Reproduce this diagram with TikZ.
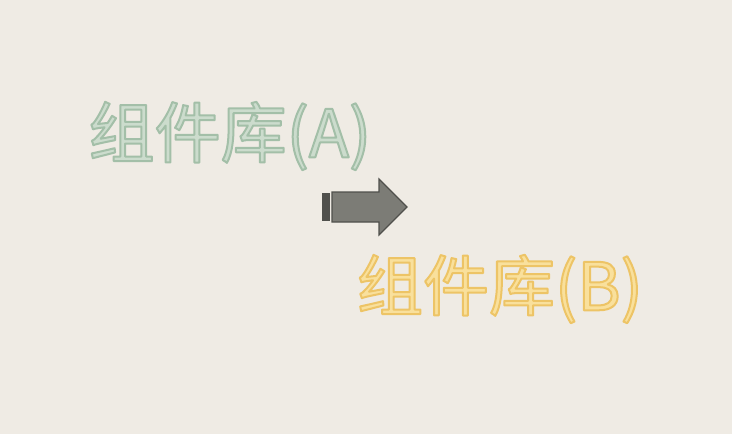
\documentclass[tikz,border=0pt]{standalone}
\usepackage{fontspec}
\setmainfont{Noto Sans CJK SC}
\definecolor{bg}{RGB}{239,235,228}
\definecolor{gA}{RGB}{204,220,205}
\definecolor{yB}{RGB}{249,224,156}
\definecolor{ar}{RGB}{124,124,118}
\definecolor{arline}{RGB}{80,80,76}
% outlined text: fill in the current colour, stroke in the given one
\newcommand{\outlined}[2]{\special{pdf:code #1 RG 2 w 1 j 2 Tr}#2\special{pdf:code 0 Tr}}

\tikzset{lib/.style={font=\fontsize{66}{66}\selectfont, inner sep=0pt}}

\begin{document}
\begin{tikzpicture}[x=1pt,y=-1pt]
        \fill[bg] (0,0) rectangle (732,434);
        \node[lib] (libA) at (230,136) {\color{gA}\outlined{0.64 0.75 0.66}{组件库(A)}};
        \node[lib] (libB) at (500,289) {\color{yB}\outlined{0.93 0.77 0.40}{组件库(B)}};
        % arrow
        \draw[arline, fill=ar, line width=1.2pt, line join=miter] (332,192) -- (379,192) -- (379,179) -- (407,207) -- (379,235) -- (379,222) -- (332,222) -- cycle;
        % tail
        \fill[arline] (322,193) rectangle (327.5,221);
        \fill[arline] (328,193) rectangle (329.5,221);
\end{tikzpicture}
\end{document}
